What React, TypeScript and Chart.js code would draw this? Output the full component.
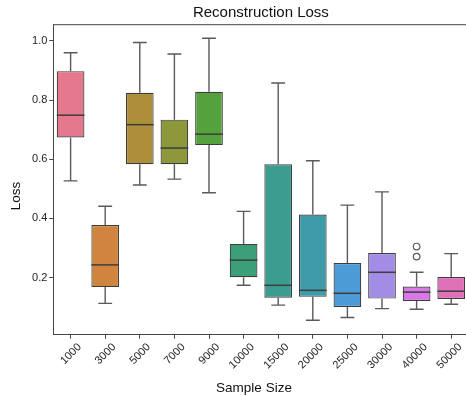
import React, { useEffect, useRef } from "react";
import { Chart, registerables } from "chart.js";

Chart.register(...registerables);

const categories = ["1000", "3000", "5000", "7000", "9000", "10000", "15000", "20000", "25000", "30000", "40000", "50000"];
const whiskerLow = [0.527, 0.113, 0.513, 0.533, 0.487, 0.174, 0.107, 0.056, 0.065, 0.095, 0.093, 0.110];
const q1 = [0.674, 0.168, 0.583, 0.583, 0.648, 0.201, 0.132, 0.135, 0.101, 0.129, 0.121, 0.128];
const medians = [0.749, 0.243, 0.717, 0.638, 0.685, 0.259, 0.174, 0.157, 0.147, 0.218, 0.151, 0.154];
const q3 = [0.898, 0.378, 0.825, 0.734, 0.828, 0.314, 0.583, 0.413, 0.249, 0.283, 0.170, 0.202];
const whiskerHigh = [0.960, 0.441, 0.995, 0.956, 1.009, 0.424, 0.858, 0.595, 0.445, 0.490, 0.218, 0.281];
const outliers: number[][] = [[], [], [], [], [], [], [], [], [], [], [0.305, 0.271], []];
const colors = ["#e6788d", "#d1843e", "#ad8e3a", "#8d983a", "#55a23c", "#3aa077", "#3b9d8f", "#3e9ca9", "#4c9bd6", "#a28ce6", "#d878e8", "#e070b8"];

const FONT = "'Liberation Sans', Arial, Helvetica, sans-serif";
const LINE = "#3d3d3d";
const WHISK = "#5a5a5a";

const boxPlugin = {
  id: "boxExtras",
  afterDatasetsDraw(chart: any) {
    const ctx = chart.ctx;
    const xs = chart.scales.x;
    const ys = chart.scales.y;
    const meta = chart.getDatasetMeta(0);
    ctx.save();
    categories.forEach((_, i) => {
      const bar = meta.data[i];
      const x = xs.getPixelForValue(i);
      const half = bar ? bar.width / 2 : 13.8;
      const yLo = ys.getPixelForValue(whiskerLow[i]);
      const yQ1 = ys.getPixelForValue(q1[i]);
      const yMed = ys.getPixelForValue(medians[i]);
      const yQ3 = ys.getPixelForValue(q3[i]);
      const yHi = ys.getPixelForValue(whiskerHigh[i]);
      ctx.strokeStyle = WHISK;
      ctx.lineWidth = 1.4;
      ctx.beginPath();
      ctx.moveTo(x, yQ3);
      ctx.lineTo(x, yHi);
      ctx.moveTo(x - half / 2, yHi);
      ctx.lineTo(x + half / 2, yHi);
      ctx.moveTo(x, yQ1);
      ctx.lineTo(x, yLo);
      ctx.moveTo(x - half / 2, yLo);
      ctx.lineTo(x + half / 2, yLo);
      ctx.stroke();
      ctx.strokeStyle = LINE;
      ctx.lineWidth = 1.5;
      ctx.beginPath();
      ctx.moveTo(x - half, yMed);
      ctx.lineTo(x + half, yMed);
      ctx.stroke();
      ctx.strokeStyle = WHISK;
      ctx.lineWidth = 1.2;
      outliers[i].forEach((v) => {
        const yo = ys.getPixelForValue(v);
        ctx.beginPath();
        ctx.arc(x, yo, 3.3, 0, Math.PI * 2);
        ctx.stroke();
      });
    });
    const a = chart.chartArea;
    ctx.strokeStyle = "#444";
    ctx.lineWidth = 1;
    ctx.beginPath();
    ctx.moveTo(a.left, a.top);
    ctx.lineTo(a.right, a.top);
    ctx.lineTo(a.right, a.bottom);
    ctx.stroke();
    ctx.fillStyle = "#111";
    ctx.font = `13.5px ${FONT}`;
    ctx.textAlign = "center";
    ctx.textBaseline = "middle";
    ctx.fillText("Sample Size", 254, 388);
    ctx.save();
    ctx.translate(16.5, 196);
    ctx.rotate(-Math.PI / 2);
    ctx.fillText("Loss", 0, 0);
    ctx.restore();
    ctx.restore();
  },
};

export default function App() {
  const ref = useRef<HTMLCanvasElement | null>(null);
  useEffect(() => {
    if (!ref.current) return;
    Chart.defaults.font.family = FONT;
    const chart = new Chart(ref.current, {
      type: "bar",
      data: {
        labels: categories,
        datasets: [
          {
            data: q1.map((v, i) => [v, q3[i]]) as any,
            backgroundColor: colors,
            borderColor: LINE,
            borderWidth: 1.2,
            borderSkipped: false,
            barPercentage: 0.8,
            categoryPercentage: 1.0,
          },
        ],
      },
      options: {
        responsive: false,
        animation: false,
        layout: { padding: { left: 0, right: 3.5, top: 0, bottom: 0 } },
        plugins: {
          legend: { display: false },
          tooltip: { enabled: false },
          title: {
            display: true,
            text: "Reconstruction Loss",
            fullSize: false,
            color: "#111",
            font: { size: 15, weight: "normal", family: FONT },
            padding: { top: 3.5, bottom: 3.2 },
          },
        },
        scales: {
          x: {
            type: "category",
            offset: true,
            grid: { display: true, offset: false, drawOnChartArea: false, drawTicks: true, tickLength: 4, color: "#444" },
            border: { display: true, color: "#444", width: 1 },
            ticks: {
              minRotation: 45,
              maxRotation: 45,
              autoSkip: false,
              labelOffset: 9,
              padding: 2,
              color: "#222",
              font: { size: 11, family: FONT },
            },
            afterFit: (s: any) => {
              s.height = 61.3;
            },
          },
          y: {
            type: "linear",
            min: 0.007,
            max: 1.055,
            grid: { display: true, drawOnChartArea: false, drawTicks: true, tickLength: 4, color: "#444" },
            border: { display: true, color: "#444", width: 1 },
            ticks: {
              stepSize: 0.2,
              includeBounds: false,
              padding: 2,
              color: "#222",
              font: { size: 11, family: FONT },
              callback: (v: any) => Number(v).toFixed(1),
            },
            afterFit: (s: any) => {
              s.width = 53.3;
            },
          },
        },
      },
      plugins: [boxPlugin],
    });
    return () => chart.destroy();
  }, []);
  return (
    <div style={{ position: "fixed", left: 0, top: 0, width: 466, height: 396, overflow: "hidden", background: "#fff" }}>
      <canvas ref={ref} width={472} height={396} style={{ display: "block" }} />
    </div>
  );
}
